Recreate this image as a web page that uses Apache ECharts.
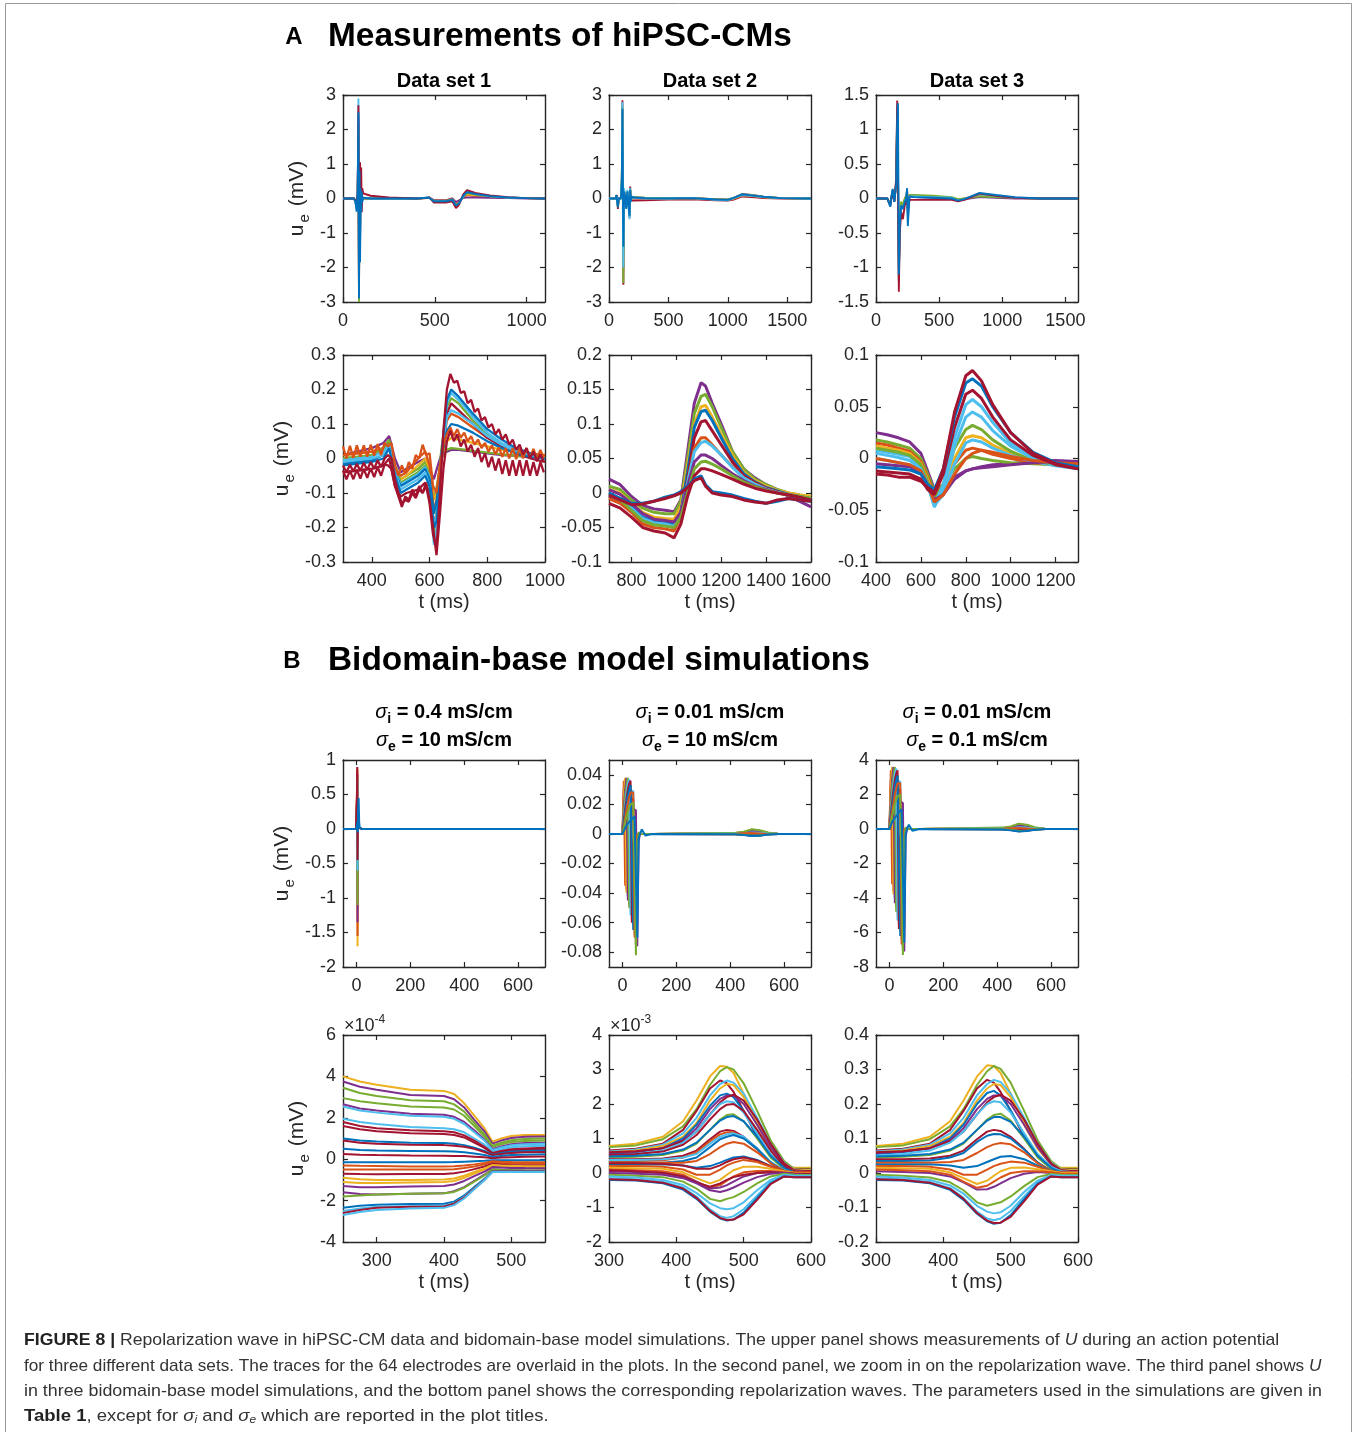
<!DOCTYPE html>
<html><head><meta charset="utf-8">
<script src="https://cdn.jsdelivr.net/npm/echarts@6/dist/echarts.min.js"></script>
<style>html,body{margin:0;padding:0;background:#fff}#c{width:1356px;height:1432px}</style>
</head><body><div id="c"></div>
<script>
// ---------------- DATA ----------------
// Row 1: full measurements
const ds1FullT = [0, 60, 68, 74, 80, 84, 87, 90, 93, 96, 99, 102, 105, 110, 120, 150, 250, 400, 455, 470, 495, 560, 595, 615, 630, 655, 675, 720, 800, 900, 1000, 1100];
const ds1FullColors = ['orange','yellow','purple','green','cyan','red','blue'];
const ds1FullV = [
  [0, 0, -0.05, -0.2, 0.1, 2.2, -2.5, 0.4, -0.9, 0.3, -0.3, 0.15, -0.05, 0.02, 0, 0, 0, 0, 0.01, 0.02, -0.05, -0.05, 0, -0.15, -0.1, 0.05, 0.1, 0.07, 0.04, 0.02, 0.01, 0],
  [0, 0, -0.05, -0.15, 0.1, 1.8, -1.5, 0.3, -0.8, 0.2, -0.2, 0.1, 0, 0, 0, 0, 0, 0, 0.01, 0.02, -0.06, -0.06, -0.02, -0.18, -0.12, 0.06, 0.12, 0.09, 0.05, 0.02, 0.01, 0],
  [0, 0, -0.08, -0.25, 0.15, 2.4, -2.7, 0.5, -1.2, 0.2, -0.3, 0.1, 0, 0, 0, 0, 0, 0, 0.02, 0.03, -0.05, -0.06, 0, -0.1, -0.06, 0.02, 0.03, 0.03, 0.02, 0.01, 0, 0],
  [0, 0, -0.06, -0.2, 0.12, 2.0, -3.0, 0.6, -1.0, 0.25, -0.25, 0.1, 0, 0, 0, 0, 0, 0, 0.02, 0.03, -0.07, -0.07, -0.02, -0.2, -0.14, 0.05, 0.16, 0.12, 0.06, 0.03, 0.01, 0],
  [0, 0, -0.1, -0.3, 0.2, 2.9, -2.6, 0.6, -1.4, 0.3, -0.3, 0.15, -0.05, 0.02, 0, 0, 0, 0, 0.02, 0.02, -0.09, -0.09, -0.05, -0.25, -0.17, 0.07, 0.19, 0.14, 0.07, 0.03, 0.01, 0],
  [0, 0, -0.05, -0.1, 0.1, 2.7, -2.8, 0.5, 1.05, -0.3, 0.9, -0.4, 0.3, 0.15, 0.12, 0.08, 0.03, 0, 0.01, 0.03, -0.12, -0.12, -0.08, -0.28, -0.2, 0.12, 0.24, 0.16, 0.09, 0.04, 0.01, 0],
  [0, 0, -0.1, -0.38, 0.2, 2.5, -2.9, 0.8, -1.85, 0.3, -0.4, 0.2, -0.1, 0.02, 0, 0, 0, 0, 0.02, 0.02, -0.08, -0.08, -0.04, -0.2, -0.15, 0.08, 0.18, 0.13, 0.07, 0.03, 0.01, 0]
];

const ds2FullT = [0, 55, 62, 68, 75, 82, 100, 108, 113, 117, 121, 126, 135, 145, 155, 165, 173, 178, 183, 190, 210, 300, 500, 700, 900, 1000, 1050, 1120, 1200, 1300, 1450, 1700];
const ds2FullColors = ['red','orange','yellow','purple','green','cyan','blue'];
const ds2FullV = [
  [0, 0, 0.05, 0.1, -0.3, 0, 0, 0.4, 2.85, 0.5, -2.5, 0.2, 0.05, -0.25, 0.2, -0.1, -0.55, 0.35, -0.05, -0.05, -0.06, -0.05, -0.03, -0.02, -0.05, -0.06, -0.03, 0.06, 0.04, 0.01, 0, 0],
  [0, 0, 0.08, 0.12, -0.2, 0, 0, 0.5, 2.5, 0.2, -2.0, 0.2, 0.1, -0.2, 0.2, -0.15, -0.4, 0.25, 0, 0.02, 0.01, 0, 0, 0.01, -0.03, -0.04, 0, 0.09, 0.07, 0.03, 0.01, 0],
  [0, 0, 0.06, 0.1, -0.15, 0, 0, 0.4, 2.3, 0.1, -1.8, 0.15, 0.08, -0.15, 0.15, -0.1, -0.35, 0.2, 0, 0.02, 0.02, 0.01, 0, 0.01, -0.03, -0.04, 0, 0.1, 0.08, 0.04, 0.01, 0],
  [0, 0, 0.05, 0.08, -0.15, 0, 0, 0.3, 2.0, 0.0, -1.6, 0.1, 0.05, -0.1, 0.1, -0.1, -0.3, 0.2, 0, 0.02, 0.03, 0.02, 0.01, 0.01, -0.02, -0.03, 0.02, 0.13, 0.1, 0.05, 0.01, 0],
  [0, 0, 0.07, 0.12, -0.25, 0, 0, 0.6, 2.7, -0.3, -2.45, 0.25, 0.1, -0.2, 0.2, -0.15, -0.5, 0.3, -0.02, 0.03, 0.04, 0.02, 0.01, 0.01, -0.02, -0.03, 0.02, 0.12, 0.1, 0.05, 0.01, 0],
  [0, 0, 0.08, 0.12, -0.2, 0, 0, 0.6, 2.8, -0.5, -2.0, 0.3, 0.1, -0.2, 0.25, -0.3, -0.6, 0.3, -0.1, 0.05, 0.02, 0, 0, 0.01, -0.04, -0.05, 0.01, 0.1, 0.08, 0.04, 0.01, 0],
  [0, 0, 0.1, 0.15, -0.25, 0, 0, 0.5, 2.6, 0.3, -1.4, 0.2, 0.1, -0.3, 0.2, -0.2, -0.5, 0.25, -0.1, 0.05, 0.03, 0.01, 0, 0.01, -0.03, -0.04, 0.02, 0.12, 0.09, 0.05, 0.01, 0]
];

const ds3FullT = [0, 90, 100, 113, 122, 132, 145, 160, 168, 174, 181, 188, 200, 213, 228, 240, 246, 252, 265, 300, 450, 600, 650, 700, 820, 950, 1100, 1300, 1600];
const ds3FullColors = ['orange','yellow','purple','green','cyan','red','blue'];
const ds3FullV = [
  [0, 0, -0.04, -0.08, 0.02, 0.1, -0.03, 0.2, 1.2, 0.4, -1.0, -0.3, -0.08, -0.12, -0.02, 0.02, 0.08, -0.1, 0.03, 0.03, 0.02, 0.01, -0.02, 0.0, 0.04, 0.03, 0.01, 0, 0],
  [0, 0, -0.03, -0.08, 0.01, 0.1, -0.03, 0.2, 1.15, 0.3, -0.9, -0.2, -0.05, -0.1, 0.0, 0.03, 0.08, -0.05, 0.03, 0.03, 0.02, 0.01, -0.02, 0.0, 0.05, 0.03, 0.01, 0, 0],
  [0, 0, -0.04, -0.09, 0.02, 0.11, -0.04, 0.22, 1.25, 0.4, -1.1, -0.35, -0.1, -0.15, -0.03, 0.02, 0.1, -0.15, 0.02, 0.02, 0.01, 0.0, -0.03, -0.01, 0.02, 0.01, 0.0, 0, 0],
  [0, 0, -0.04, -0.1, 0.02, 0.12, -0.04, 0.25, 1.3, 0.5, -1.2, -0.3, -0.05, -0.1, 0.0, 0.05, 0.12, -0.1, 0.05, 0.05, 0.04, 0.02, -0.01, 0.0, 0.03, 0.02, 0.01, 0, 0],
  [0, 0, -0.05, -0.11, 0.02, 0.13, -0.05, 0.25, 1.35, 0.6, -1.2, -0.4, -0.1, -0.15, -0.04, 0.01, 0.12, -0.3, 0.03, 0.03, 0.02, 0.01, -0.03, -0.01, 0.06, 0.04, 0.01, 0, 0],
  [0, 0, -0.05, -0.1, 0.0, 0.1, -0.05, 0.3, 1.42, 0.2, -1.35, -0.5, -0.2, -0.3, -0.1, -0.05, 0.1, -0.2, -0.02, -0.02, -0.02, -0.02, -0.04, -0.02, 0.07, 0.04, 0.01, 0, 0],
  [0, 0, -0.05, -0.12, 0.02, 0.14, -0.05, 0.2, 1.1, 1.38, -1.1, -0.4, -0.1, -0.15, -0.05, 0, 0.15, -0.4, 0.03, 0.02, 0.01, 0, -0.03, -0.01, 0.08, 0.05, 0.02, 0, 0]
];

// Row 2: repolarization wave zoom
const ds1ZoomT = [300, 350, 400, 440, 460, 480, 500, 520, 560, 585, 600, 615, 625, 640, 660, 675, 700, 750, 800, 850, 900, 950, 1000];
const ds1ZoomColors = ['purple','green','yellow','orange','green','red','cyan','blue','cyan','blue'];
const ds1ZoomV = [
  [0.01, 0.02, 0.03, 0.045, 0.065, 0.0, -0.04, -0.03, -0.01, 0.0, -0.03, -0.06, -0.03, 0.01, 0.02, 0.025, 0.025, 0.02, 0.015, 0.01, 0.008, 0.005, 0.005],
  [0.0, 0.005, 0.01, 0.025, 0.05, -0.02, -0.06, -0.05, -0.03, -0.01, -0.04, -0.12, -0.08, 0.0, 0.025, 0.03, 0.028, 0.022, 0.017, 0.012, 0.008, 0.005, 0.005],
  [0.01, 0.015, 0.02, 0.03, 0.045, -0.025, -0.06, -0.05, -0.02, 0.0, -0.03, -0.12, -0.1, 0.0, 0.05, 0.06, 0.055, 0.045, 0.035, 0.025, 0.02, 0.015, 0.01],
  [0.01, 0.015, 0.02, 0.03, 0.045, -0.03, -0.05, -0.04, 0.0, 0.02, -0.02, -0.15, -0.12, 0.0, 0.11, 0.13, 0.12, 0.09, 0.06, 0.04, 0.025, 0.015, 0.01],
  [0.0, 0.005, 0.01, 0.03, 0.055, -0.02, -0.07, -0.06, -0.04, -0.02, -0.05, -0.22, -0.15, 0.02, 0.15, 0.175, 0.16, 0.11, 0.07, 0.04, 0.02, 0.01, 0.0],
  [-0.04, -0.035, -0.03, -0.02, 0.0, -0.08, -0.11, -0.1, -0.09, -0.07, -0.1, -0.18, -0.2, -0.02, 0.13, 0.16, 0.14, 0.1, 0.06, 0.035, 0.015, 0.0, -0.01],
  [-0.005, 0.0, 0.005, 0.02, 0.04, -0.035, -0.075, -0.065, -0.045, -0.025, -0.055, -0.2, -0.16, 0.0, 0.12, 0.14, 0.13, 0.1, 0.065, 0.04, 0.02, 0.01, 0.0],
  [-0.015, -0.01, -0.005, 0.01, 0.035, -0.04, -0.08, -0.07, -0.05, -0.03, -0.06, -0.16, -0.12, 0.0, 0.08, 0.1, 0.095, 0.075, 0.05, 0.03, 0.015, 0.005, 0.0],
  [-0.01, -0.005, 0.0, 0.01, 0.04, -0.04, -0.09, -0.08, -0.06, -0.04, -0.08, -0.25, -0.2, 0.0, 0.16, 0.19, 0.17, 0.12, 0.075, 0.045, 0.025, 0.01, 0.0],
  [-0.02, -0.015, -0.01, 0.0, 0.03, -0.05, -0.1, -0.09, -0.07, -0.05, -0.08, -0.2, -0.18, 0.0, 0.17, 0.2, 0.18, 0.13, 0.085, 0.055, 0.03, 0.015, 0.0]
];
// noisy electrodes of data set 1 (visible zig-zag), sampled every 12 ms
const ds1NoisyT = [300, 312, 324, 336, 348, 360, 372, 384, 396, 408, 420, 432, 444, 456, 468, 480, 492, 504, 516, 528, 540, 552, 564, 576, 588, 600,
  612, 624, 636, 648, 660, 672, 684, 696, 708, 720, 732, 744, 756, 768, 780, 792, 804, 816, 828, 840, 852, 864, 876, 888, 900, 912, 924, 936, 948, 960, 972, 984, 996];
const ds1NoisyColors = ['orange','red','red'];
const ds1NoisyV = [
  [0.035, 0.0, 0.037, 0.002, 0.038, 0.005, 0.038, 0.005, 0.04, 0.008, 0.042, 0.01, 0.045,
   0.035, 0.045, -0.02, -0.05, -0.02, -0.045, -0.01, -0.03, 0.01, 0.0, 0.04, 0.01, 0.015,
   -0.08, -0.1, -0.02, 0.04, 0.07, 0.09, 0.065, 0.085, 0.06, 0.075, 0.05, 0.065, 0.04,
   0.055, 0.03, 0.045, 0.02, 0.038, 0.012, 0.032, 0.005, 0.03, 0.0, 0.03, -0.002, 0.03,
   0.0, 0.03, 0.0, 0.028, -0.002, 0.025, 0.0],
  [-0.035, -0.06, -0.035, -0.06, -0.032, -0.058, -0.03, -0.056, -0.028, -0.054, -0.025, -0.05, -0.018,
   -0.02, -0.03, -0.08, -0.11, -0.14, -0.11, -0.12, -0.09, -0.11, -0.08, -0.1, -0.07, -0.12,
   -0.2, -0.28, -0.16, -0.03, 0.05, 0.08, 0.05, 0.07, 0.035, 0.055, 0.02, 0.04, 0.005,
   0.03, -0.01, 0.015, -0.025, 0.005, -0.035, 0.0, -0.045, -0.005, -0.05, -0.005, -0.05, -0.005,
   -0.05, -0.005, -0.05, -0.01, -0.05, -0.01, -0.04],
  [-0.02, -0.04, -0.018, -0.038, -0.015, -0.036, -0.012, -0.033, -0.01, -0.03, -0.005, -0.025, 0.0,
   0.01, 0.0, -0.06, -0.1, -0.13, -0.12, -0.125, -0.1, -0.115, -0.09, -0.1, -0.08, -0.13,
   -0.22, -0.26, -0.1, 0.08, 0.2, 0.245, 0.22, 0.225, 0.19, 0.195, 0.16, 0.17, 0.135,
   0.145, 0.11, 0.12, 0.09, 0.1, 0.07, 0.085, 0.055, 0.07, 0.04, 0.055, 0.025, 0.04,
   0.012, 0.03, 0.0, 0.02, -0.008, 0.012, -0.01]
];

const ds2ZoomT = [700, 750, 800, 850, 900, 950, 990, 1020, 1050, 1080, 1110, 1130, 1160, 1200, 1250, 1300, 1350, 1400, 1450, 1500, 1550, 1600];
const ds2ZoomColors = ['purple','green','yellow','blue','red','orange','cyan','purple','green','red','blue','red'];
const ds2ZoomV = [
  [0.02, 0.012, -0.005, -0.018, -0.023, -0.025, -0.027, -0.01, 0.06, 0.13, 0.16, 0.155, 0.13, 0.1, 0.06, 0.035, 0.022, 0.012, 0.005, -0.005, -0.012, -0.02],
  [0.01, 0.005, -0.01, -0.022, -0.028, -0.03, -0.03, -0.012, 0.05, 0.115, 0.14, 0.143, 0.125, 0.095, 0.06, 0.035, 0.02, 0.012, 0.005, 0, -0.003, -0.005],
  [0.005, 0, -0.015, -0.028, -0.035, -0.037, -0.038, -0.02, 0.04, 0.1, 0.125, 0.127, 0.11, 0.085, 0.055, 0.03, 0.018, 0.01, 0.004, 0, -0.003, -0.005],
  [0.0, -0.008, -0.02, -0.035, -0.04, -0.042, -0.045, -0.028, 0.03, 0.095, 0.118, 0.12, 0.105, 0.08, 0.05, 0.028, 0.016, 0.008, 0.003, -0.002, -0.005, -0.008],
  [-0.005, -0.012, -0.025, -0.04, -0.045, -0.047, -0.05, -0.03, 0.02, 0.08, 0.103, 0.105, 0.09, 0.07, 0.045, 0.025, 0.015, 0.007, 0.002, -0.003, -0.006, -0.01],
  [-0.008, -0.015, -0.028, -0.045, -0.05, -0.052, -0.055, -0.035, 0.012, 0.065, 0.08, 0.08, 0.07, 0.055, 0.038, 0.022, 0.013, 0.006, 0.001, -0.003, -0.006, -0.008],
  [-0.003, -0.01, -0.022, -0.037, -0.043, -0.045, -0.048, -0.03, 0.015, 0.06, 0.073, 0.075, 0.068, 0.055, 0.037, 0.022, 0.013, 0.006, 0.001, -0.003, -0.006, -0.008],
  [0.005, -0.002, -0.015, -0.03, -0.038, -0.04, -0.042, -0.028, 0.01, 0.045, 0.055, 0.055, 0.05, 0.04, 0.028, 0.018, 0.01, 0.005, 0, -0.003, -0.006, -0.01],
  [-0.002, -0.01, -0.025, -0.04, -0.046, -0.048, -0.05, -0.035, 0.0, 0.035, 0.045, 0.046, 0.042, 0.035, 0.025, 0.016, 0.009, 0.004, 0, -0.003, -0.005, -0.008],
  [-0.015, -0.022, -0.035, -0.05, -0.055, -0.058, -0.065, -0.045, -0.005, 0.025, 0.035, 0.035, 0.032, 0.027, 0.02, 0.013, 0.007, 0.003, 0, -0.003, -0.006, -0.01],
  [0.0, -0.008, -0.015, -0.015, -0.012, -0.006, -0.003, 0.002, 0.01, 0.02, 0.025, 0.012, 0.002, 0, -0.003, -0.008, -0.012, -0.015, -0.012, -0.008, -0.01, -0.012],
  [-0.003, -0.01, -0.017, -0.016, -0.012, -0.008, -0.004, 0.0, 0.008, 0.018, 0.022, 0.01, 0.0, -0.003, -0.005, -0.01, -0.013, -0.015, -0.01, -0.008, -0.01, -0.012]
];

const ds3ZoomT = [400, 450, 500, 550, 600, 630, 660, 700, 750, 800, 830, 870, 920, 1000, 1100, 1200, 1300];
const ds3ZoomColors = ['purple','green','orange','yellow','cyan','green','cyan','cyan','purple','orange','red','blue','red'];
const ds3ZoomV = [
  [0.025, 0.023, 0.02, 0.016, 0.005, -0.012, -0.03, -0.028, -0.018, -0.012, -0.01, -0.008, -0.006, -0.005, -0.003, -0.002, -0.003],
  [0.018, 0.016, 0.013, 0.01, 0.0, -0.015, -0.032, -0.025, -0.01, 0.0, 0.002, 0.0, -0.002, -0.004, -0.005, -0.006, -0.008],
  [0.015, 0.013, 0.01, 0.007, -0.003, -0.018, -0.035, -0.025, -0.005, 0.008, 0.01, 0.008, 0.004, 0.0, -0.004, -0.006, -0.008],
  [0.012, 0.01, 0.008, 0.005, -0.005, -0.02, -0.04, -0.03, 0.0, 0.02, 0.022, 0.02, 0.013, 0.005, -0.002, -0.006, -0.008],
  [0.008, 0.006, 0.004, 0.002, -0.008, -0.025, -0.045, -0.035, -0.005, 0.015, 0.018, 0.016, 0.01, 0.003, -0.003, -0.007, -0.01],
  [0.01, 0.008, 0.006, 0.003, -0.006, -0.022, -0.04, -0.025, 0.01, 0.028, 0.032, 0.028, 0.018, 0.007, -0.002, -0.006, -0.008],
  [0.005, 0.003, 0.001, -0.002, -0.01, -0.025, -0.047, -0.03, 0.012, 0.04, 0.045, 0.04, 0.027, 0.012, 0.0, -0.006, -0.009],
  [0.0, -0.002, -0.004, -0.006, -0.012, -0.025, -0.045, -0.025, 0.02, 0.052, 0.057, 0.05, 0.035, 0.015, 0.002, -0.005, -0.008],
  [-0.005, -0.006, -0.007, -0.008, -0.015, -0.025, -0.04, -0.035, -0.02, -0.012, -0.01, -0.009, -0.008, -0.006, -0.004, -0.003, -0.003],
  [0.0, -0.002, -0.004, -0.006, -0.012, -0.025, -0.042, -0.035, -0.015, 0.0, 0.005, 0.008, 0.006, 0.002, -0.002, -0.004, -0.005],
  [-0.012, -0.013, -0.014, -0.015, -0.02, -0.03, -0.035, -0.015, 0.03, 0.062, 0.066, 0.058, 0.04, 0.018, 0.003, -0.006, -0.01],
  [-0.008, -0.009, -0.01, -0.011, -0.015, -0.025, -0.03, -0.01, 0.04, 0.073, 0.077, 0.07, 0.05, 0.025, 0.006, -0.004, -0.008],
  [-0.015, -0.016, -0.018, -0.018, -0.022, -0.028, -0.033, -0.01, 0.045, 0.08, 0.085, 0.075, 0.052, 0.025, 0.005, -0.005, -0.01]
];

// Row 3: bidomain simulations, full traces
const sim1FullT = [-50, -2, 0, 2, 3, 4, 5, 6, 8, 10, 12, 15, 20, 700];
const sim1FullColors = ['yellow','orange','purple','green','cyan','red','blue'];
const sim1FullV = [
  [0, 0, 0.02, 0.5, 0.88, -1.7, -0.3, 0.1, 0.05, 0.02, 0.01, 0, 0, 0],
  [0, 0, 0.02, 0.45, 0.85, -1.55, -0.3, 0.1, 0.05, 0.02, 0.01, 0, 0, 0],
  [0, 0, 0.02, 0.4, 0.8, -1.35, -0.25, 0.08, 0.05, 0.02, 0.01, 0, 0, 0],
  [0, 0, 0.02, 0.35, 0.75, -1.1, -0.2, 0.08, 0.05, 0.02, 0.01, 0, 0, 0],
  [0, 0, 0.02, 0.3, 0.7, -0.6, -0.15, 0.06, 0.04, 0.02, 0.01, 0, 0, 0],
  [0, 0, 0.02, 0.55, 0.9, -0.45, -0.1, 0.05, 0.04, 0.02, 0.01, 0, 0, 0],
  [0, 0, 0.01, 0.05, 0.1, 0.0, -0.05, 0.3, 0.45, 0.1, 0.02, 0.03, 0, 0]
];

const sim2FullT = [-50, 0, 5, 10, 15, 20, 25, 30, 35, 40, 45, 50, 55, 60, 65, 72, 85, 110, 420, 450, 480, 510, 540, 580, 700];
const sim2FullColors = ['red','blue','orange','yellow','purple','green','cyan','red','purple',
  'orange','yellow','purple','green','cyan','red','blue','orange','green','blue'];
const sim2FullV = [
  [0, 0, 0.03, 0.037, -0.038, -0.003, 0, 0, 0, 0, 0, 0, 0, 0, 0, 0, 0, 0, 0.0003, 0.0008, 0.002, 0.0013, 0.0004, 0, 0],
  [0, 0, 0.022, 0.033, 0.037, -0.042, -0.004, 0, 0, 0, 0, 0, 0, 0, 0, 0, 0, 0, 0.0002, 0.0006, 0.0015, 0.001, 0.0003, 0, 0],
  [0, 0, 0.016, 0.028, 0.035, 0.037, -0.048, -0.005, 0, 0, 0, 0, 0, 0, 0, 0, 0, 0, 0.0006, 0.0012, 0.0028, 0.002, 0.0008, 0, 0],
  [0, 0, 0.013, 0.023, 0.031, 0.035, 0.036, -0.052, -0.005, 0, 0, 0, 0, 0, 0, 0, 0, 0, 0.0002, 0.0004, 0.0008, 0.0005, 0.0002, 0, 0],
  [0, 0, 0.01, 0.019, 0.027, 0.032, 0.035, 0.035, -0.058, -0.005, 0, 0, 0, 0, 0, 0, 0, 0, 0, 0.0001, -0.0002, 0, 0, 0, 0],
  [0, 0, 0.008, 0.016, 0.022, 0.028, 0.031, 0.033, 0.032, -0.062, -0.006, 0, 0, 0, 0, 0, 0, 0, 0, -0.0003, -0.0008, -0.0006, -0.0001, 0, 0],
  [0, 0, 0.006, 0.012, 0.018, 0.023, 0.027, 0.029, 0.03, 0.029, -0.068, -0.007, 0, 0, 0, 0, 0, 0, 0.0001, 0.0003, 0.0005, 0.0002, 0, 0, 0],
  [0, 0, 0.005, 0.01, 0.014, 0.018, 0.021, 0.023, 0.024, 0.024, 0.023, -0.075, -0.007, 0, 0, 0, 0, 0, -0.0002, -0.0006, -0.0013, -0.001, -0.0003, 0, 0],
  [0, 0, 0.003, 0.006, 0.009, 0.011, 0.013, 0.015, 0.016, 0.017, 0.017, 0.016, -0.076, -0.005, 0, 0, 0, 0, -0.0002, -0.0005, -0.001, -0.0008, -0.0002, 0, 0],
  [0, 0, 0.036, -0.035, -0.004, 0, 0, 0, 0, 0, 0, 0, 0, 0, 0, 0, 0, 0, 0.0005, 0.001, 0.0025, 0.0015, 0.0005, 0, 0],
  [0, 0, 0.025, 0.038, -0.04, -0.004, 0, 0, 0, 0, 0, 0, 0, 0, 0, 0, 0, 0, 0.0005, 0.0012, 0.003, 0.002, 0.0005, 0, 0],
  [0, 0, 0.018, 0.03, 0.038, -0.045, -0.005, 0, 0, 0, 0, 0, 0, 0, 0, 0, 0, 0, 0, 0.0008, 0.002, 0.0015, 0.0003, 0, 0],
  [0, 0, 0.014, 0.025, 0.033, 0.038, -0.05, -0.005, 0, 0, 0, 0, 0, 0, 0, 0, 0, 0, 0.0008, 0.0015, 0.0031, 0.0025, 0.001, 0, 0],
  [0, 0, 0.011, 0.02, 0.028, 0.034, 0.037, -0.055, -0.005, 0, 0, 0, 0, 0, 0, 0, 0, 0, 0.0003, 0.0005, 0.001, 0.0008, 0.0003, 0, 0],
  [0, 0, 0.009, 0.017, 0.024, 0.03, 0.034, 0.036, -0.06, -0.006, 0, 0, 0, 0, 0, 0, 0, 0, 0, 0.0002, -0.0003, 0, 0, 0, 0],
  [0, 0, 0.007, 0.014, 0.02, 0.026, 0.03, 0.033, 0.034, -0.065, -0.006, 0, 0, 0, 0, 0, 0, 0, -0.0001, -0.0004, -0.001, -0.0008, -0.0002, 0, 0],
  [0, 0, 0.005, 0.011, 0.016, 0.021, 0.025, 0.028, 0.029, 0.028, -0.07, -0.008, 0, 0, 0, 0, 0, 0, 0.0002, 0.0004, 0.0006, 0.0003, 0, 0, 0],
  [0, 0, 0.004, 0.008, 0.012, 0.015, 0.018, 0.02, 0.021, 0.021, 0.02, -0.082, -0.006, 0.001, 0, 0, 0, 0, -0.0002, -0.0005, -0.0012, -0.001, -0.0003, 0, 0],
  [0, 0, 0.002, 0.004, 0.006, 0.007, 0.008, 0.009, 0.01, 0.011, 0.012, 0.012, -0.07, -0.003, 0.0, 0.003, -0.001, 0, -0.0003, -0.0008, -0.0014, -0.0012, -0.0004, 0, 0]
];

const sim3FullT = [-50, 0, 5, 10, 15, 20, 25, 30, 35, 40, 45, 50, 55, 60, 65, 72, 85, 110, 420, 450, 480, 510, 540, 580, 700];
const sim3FullColors = ['red','blue','orange','yellow','purple','green','cyan','red','purple',
  'orange','yellow','purple','green','cyan','red','blue','orange','green','blue'];
const sim3FullV = [
  [0, 0, 2.8, 3.5, -3.6, -0.3, 0, 0, 0, 0, 0, 0, 0, 0, 0, 0, 0, 0, 0.03, 0.08, 0.2, 0.13, 0.04, 0, 0],
  [0, 0, 2.1, 3.1, 3.5, -4.0, -0.4, 0, 0, 0, 0, 0, 0, 0, 0, 0, 0, 0, 0.02, 0.06, 0.15, 0.1, 0.03, 0, 0],
  [0, 0, 1.5, 2.65, 3.3, 3.5, -4.5, -0.45, 0, 0, 0, 0, 0, 0, 0, 0, 0, 0, 0.06, 0.12, 0.27, 0.2, 0.08, 0, 0],
  [0, 0, 1.2, 2.2, 2.95, 3.3, 3.45, -5.0, -0.5, 0, 0, 0, 0, 0, 0, 0, 0, 0, 0.02, 0.04, 0.08, 0.05, 0.02, 0, 0],
  [0, 0, 0.95, 1.8, 2.55, 3.05, 3.3, 3.35, -5.5, -0.5, 0, 0, 0, 0, 0, 0, 0, 0, 0, 0.01, -0.02, 0, 0, 0, 0],
  [0, 0, 0.75, 1.5, 2.1, 2.65, 2.95, 3.1, 3.05, -5.9, -0.55, 0, 0, 0, 0, 0, 0, 0, 0, -0.03, -0.08, -0.06, -0.01, 0, 0],
  [0, 0, 0.55, 1.15, 1.7, 2.2, 2.55, 2.75, 2.85, 2.75, -6.4, -0.6, 0, 0, 0, 0, 0, 0, 0.01, 0.03, 0.05, 0.02, 0, 0, 0],
  [0, 0, 0.45, 0.95, 1.35, 1.7, 2.0, 2.2, 2.3, 2.3, 2.2, -7.0, -0.6, 0, 0, 0, 0, 0, -0.02, -0.06, -0.13, -0.1, -0.03, 0, 0],
  [0, 0, 0.3, 0.6, 0.85, 1.05, 1.25, 1.4, 1.5, 1.6, 1.6, 1.5, -7.1, -0.45, 0, 0, 0, 0, -0.02, -0.05, -0.1, -0.08, -0.02, 0, 0],
  [0, 0, 3.4, -3.2, -0.4, 0, 0, 0, 0, 0, 0, 0, 0, 0, 0, 0, 0, 0, 0.05, 0.1, 0.25, 0.15, 0.05, 0, 0],
  [0, 0, 2.4, 3.6, -3.8, -0.4, 0, 0, 0, 0, 0, 0, 0, 0, 0, 0, 0, 0, 0.05, 0.12, 0.3, 0.2, 0.05, 0, 0],
  [0, 0, 1.7, 2.9, 3.6, -4.3, -0.45, 0, 0, 0, 0, 0, 0, 0, 0, 0, 0, 0, 0, 0.08, 0.2, 0.15, 0.03, 0, 0],
  [0, 0, 1.3, 2.4, 3.1, 3.6, -4.8, -0.5, 0, 0, 0, 0, 0, 0, 0, 0, 0, 0, 0.08, 0.15, 0.3, 0.25, 0.1, 0, 0],
  [0, 0, 1.05, 1.9, 2.7, 3.2, 3.5, -5.3, -0.5, 0, 0, 0, 0, 0, 0, 0, 0, 0, 0.03, 0.05, 0.1, 0.08, 0.03, 0, 0],
  [0, 0, 0.85, 1.6, 2.3, 2.85, 3.2, 3.4, -5.8, -0.55, 0, 0, 0, 0, 0, 0, 0, 0, 0, 0.02, -0.03, 0, 0, 0, 0],
  [0, 0, 0.65, 1.3, 1.9, 2.45, 2.85, 3.1, 3.2, -6.2, -0.55, 0, 0, 0, 0, 0, 0, 0, -0.01, -0.04, -0.1, -0.08, -0.02, 0, 0],
  [0, 0, 0.5, 1.05, 1.5, 2.0, 2.35, 2.65, 2.75, 2.65, -6.7, -0.7, 0, 0, 0, 0, 0, 0, 0.02, 0.04, 0.06, 0.03, 0, 0, 0],
  [0, 0, 0.4, 0.75, 1.15, 1.45, 1.7, 1.9, 2.0, 2.0, 1.9, -7.3, -0.55, 0.1, 0, 0, 0, 0, -0.02, -0.05, -0.12, -0.1, -0.03, 0, 0],
  [0, 0, 0.2, 0.4, 0.55, 0.65, 0.75, 0.85, 0.95, 1.05, 1.15, 1.2, -6.6, -0.3, 0.0, 0.25, -0.1, 0, -0.03, -0.08, -0.14, -0.12, -0.04, 0, 0]
];

// Row 4: simulated repolarization waves (panel 1 in units of 1e-4 mV, panel 2 in 1e-3 mV)
const sim1ZoomT = [250, 275, 300, 350, 400, 415, 430, 445, 460, 472, 485, 500, 520, 550];
const sim1ZoomColors = ['yellow','purple','green','green','purple','cyan','cyan','red','red','blue','red','blue','red','blue','orange','orange','red','yellow','yellow','purple','purple','green','blue','cyan','red','cyan'];
const sim1ZoomV = [
  [4.0, 3.75, 3.6, 3.35, 3.3, 3.15, 2.7, 2.1, 1.5, 0.85, 1.0, 1.12, 1.17, 1.17],
  [3.75, 3.5, 3.35, 3.1, 3.05, 2.9, 2.5, 1.9, 1.35, 0.75, 0.9, 1.02, 1.08, 1.1],
  [3.45, 3.2, 3.05, 2.85, 2.8, 2.65, 2.3, 1.75, 1.2, 0.65, 0.8, 0.92, 0.98, 1.0],
  [2.95, 2.8, 2.7, 2.55, 2.5, 2.4, 2.1, 1.6, 1.1, 0.6, 0.72, 0.83, 0.88, 0.9],
  [2.65, 2.45, 2.35, 2.2, 2.15, 2.05, 1.8, 1.4, 0.95, 0.5, 0.62, 0.72, 0.78, 0.8],
  [2.55, 2.35, 2.25, 2.1, 2.05, 1.95, 1.7, 1.3, 0.9, 0.45, 0.57, 0.67, 0.72, 0.75],
  [1.95, 1.8, 1.7, 1.55, 1.5, 1.45, 1.3, 1.0, 0.7, 0.38, 0.48, 0.58, 0.63, 0.65],
  [1.8, 1.6, 1.5, 1.4, 1.35, 1.3, 1.15, 0.9, 0.6, 0.3, 0.4, 0.48, 0.52, 0.55],
  [1.6, 1.45, 1.35, 1.25, 1.22, 1.17, 1.05, 0.8, 0.55, 0.28, 0.35, 0.42, 0.46, 0.48],
  [1.0, 0.9, 0.85, 0.8, 0.78, 0.75, 0.68, 0.55, 0.4, 0.22, 0.3, 0.36, 0.4, 0.42],
  [0.9, 0.8, 0.75, 0.7, 0.68, 0.65, 0.6, 0.5, 0.35, 0.2, 0.25, 0.3, 0.33, 0.35],
  [0.5, 0.45, 0.42, 0.4, 0.38, 0.37, 0.34, 0.28, 0.2, 0.12, 0.16, 0.2, 0.22, 0.24],
  [0.25, 0.22, 0.2, 0.18, 0.17, 0.16, 0.15, 0.12, 0.09, 0.05, 0.08, 0.1, 0.12, 0.13],
  [-0.15, -0.15, -0.15, -0.15, -0.15, -0.14, -0.12, -0.1, -0.08, -0.05, -0.05, -0.05, -0.05, -0.05],
  [-0.3, -0.32, -0.33, -0.35, -0.35, -0.34, -0.3, -0.25, -0.18, -0.1, -0.12, -0.14, -0.15, -0.15],
  [-0.5, -0.5, -0.5, -0.5, -0.5, -0.48, -0.43, -0.35, -0.25, -0.15, -0.18, -0.2, -0.22, -0.22],
  [-0.7, -0.72, -0.73, -0.72, -0.72, -0.68, -0.6, -0.48, -0.35, -0.22, -0.25, -0.28, -0.3, -0.3],
  [-0.9, -0.97, -1.0, -1.0, -0.98, -0.93, -0.8, -0.62, -0.45, -0.28, -0.3, -0.32, -0.34, -0.34],
  [-1.1, -1.15, -1.15, -1.12, -1.1, -1.05, -0.9, -0.7, -0.5, -0.32, -0.34, -0.36, -0.38, -0.38],
  [-1.3, -1.35, -1.35, -1.32, -1.3, -1.22, -1.05, -0.82, -0.6, -0.38, -0.4, -0.42, -0.43, -0.44],
  [-1.6, -1.68, -1.7, -1.67, -1.65, -1.55, -1.35, -1.05, -0.75, -0.48, -0.5, -0.52, -0.53, -0.54],
  [-1.8, -1.75, -1.7, -1.67, -1.65, -1.58, -1.38, -1.08, -0.78, -0.5, -0.52, -0.53, -0.55, -0.55],
  [-2.35, -2.25, -2.2, -2.17, -2.15, -2.05, -1.75, -1.35, -0.95, -0.58, -0.58, -0.58, -0.58, -0.58],
  [-2.5, -2.38, -2.3, -2.27, -2.25, -2.13, -1.82, -1.4, -0.98, -0.6, -0.6, -0.6, -0.6, -0.6],
  [-2.6, -2.45, -2.35, -2.3, -2.28, -2.15, -1.85, -1.42, -1.0, -0.6, -0.6, -0.6, -0.6, -0.6],
  [-2.7, -2.55, -2.45, -2.38, -2.35, -2.22, -1.9, -1.45, -1.02, -0.62, -0.62, -0.62, -0.62, -0.62]
];

const sim2ZoomT = [300, 340, 380, 410, 430, 450, 465, 475, 485, 500, 520, 540, 560, 575, 590, 600];
const sim2ZoomColors = ['yellow','green','red','cyan','yellow','blue','purple','red','cyan','red','green','blue','red','orange','cyan','blue','orange','blue','red','orange','yellow','orange','purple','red','purple','green','cyan','cyan','blue','red'];
const sim2ZoomV = [
  [0.78, 0.85, 1.05, 1.5, 2.1, 2.8, 3.1, 3.08, 2.9, 2.3, 1.4, 0.7, 0.25, 0.15, 0.15, 0.15],
  [0.75, 0.8, 0.98, 1.35, 1.85, 2.55, 2.95, 3.07, 3.0, 2.6, 1.8, 0.95, 0.35, 0.12, 0.12, 0.12],
  [0.65, 0.7, 0.85, 1.25, 1.8, 2.45, 2.68, 2.6, 2.35, 1.8, 1.05, 0.5, 0.18, 0.1, 0.1, 0.1],
  [0.62, 0.68, 0.82, 1.15, 1.6, 2.25, 2.58, 2.68, 2.62, 2.3, 1.6, 0.85, 0.3, 0.1, 0.08, 0.08],
  [0.6, 0.65, 0.78, 1.05, 1.45, 2.1, 2.45, 2.58, 2.55, 2.2, 1.5, 0.8, 0.28, 0.1, 0.08, 0.08],
  [0.55, 0.6, 0.72, 1.0, 1.4, 1.95, 2.25, 2.3, 2.2, 1.8, 1.1, 0.5, 0.15, 0.05, 0.05, 0.05],
  [0.58, 0.62, 0.72, 0.95, 1.3, 1.85, 2.15, 2.25, 2.25, 2.0, 1.4, 0.75, 0.25, 0.08, 0.06, 0.06],
  [0.6, 0.63, 0.72, 0.92, 1.2, 1.7, 2.05, 2.2, 2.27, 2.1, 1.55, 0.85, 0.28, 0.08, 0.05, 0.05],
  [0.5, 0.55, 0.65, 0.88, 1.2, 1.7, 2.0, 2.08, 2.05, 1.75, 1.15, 0.55, 0.18, 0.05, 0.03, 0.03],
  [0.52, 0.55, 0.62, 0.82, 1.1, 1.55, 1.85, 1.98, 2.0, 1.8, 1.25, 0.65, 0.2, 0.05, 0.03, 0.03],
  [0.45, 0.47, 0.52, 0.65, 0.85, 1.25, 1.55, 1.68, 1.7, 1.5, 1.0, 0.45, 0.12, 0.02, 0.0, 0.0],
  [0.48, 0.5, 0.55, 0.68, 0.88, 1.25, 1.52, 1.62, 1.65, 1.5, 1.05, 0.5, 0.15, 0.02, 0.0, 0.0],
  [0.4, 0.4, 0.42, 0.5, 0.65, 0.98, 1.2, 1.25, 1.22, 1.05, 0.7, 0.3, 0.06, 0.0, -0.02, -0.02],
  [0.35, 0.35, 0.37, 0.45, 0.6, 0.92, 1.12, 1.18, 1.18, 1.02, 0.68, 0.3, 0.06, 0.0, -0.02, -0.02],
  [0.38, 0.38, 0.4, 0.45, 0.55, 0.85, 1.05, 1.12, 1.15, 1.05, 0.72, 0.32, 0.08, 0.0, -0.02, -0.02],
  [0.3, 0.3, 0.3, 0.35, 0.45, 0.75, 0.98, 1.05, 1.1, 1.0, 0.7, 0.3, 0.06, -0.02, -0.03, -0.03],
  [0.3, 0.3, 0.3, 0.3, 0.35, 0.55, 0.75, 0.85, 0.9, 0.85, 0.6, 0.28, 0.06, -0.02, -0.03, -0.03],
  [0.25, 0.25, 0.25, 0.22, 0.15, 0.2, 0.3, 0.38, 0.45, 0.48, 0.38, 0.2, 0.05, -0.02, -0.03, -0.03],
  [0.28, 0.28, 0.27, 0.22, 0.12, 0.12, 0.22, 0.32, 0.4, 0.45, 0.36, 0.2, 0.05, 0.02, 0.02, 0.02],
  [0.2, 0.2, 0.18, 0.1, -0.05, -0.05, 0.1, 0.22, 0.3, 0.38, 0.32, 0.18, 0.05, 0.02, 0.02, 0.02],
  [0.15, 0.14, 0.12, 0.02, -0.15, -0.3, -0.2, -0.05, 0.08, 0.18, 0.18, 0.12, 0.05, 0.0, 0.0, 0.0],
  [0.1, 0.08, 0.05, -0.05, -0.25, -0.42, -0.35, -0.22, -0.1, 0.02, 0.06, 0.06, 0.02, -0.02, -0.02, -0.02],
  [0.05, 0.03, 0.0, -0.1, -0.25, -0.45, -0.42, -0.35, -0.25, -0.1, 0.0, 0.03, 0.0, -0.03, -0.03, -0.03],
  [0.08, 0.05, 0.0, -0.1, -0.28, -0.4, -0.3, -0.2, -0.12, -0.05, 0.0, 0.02, 0.0, -0.02, -0.02, -0.02],
  [0.0, -0.02, -0.05, -0.15, -0.3, -0.5, -0.55, -0.5, -0.42, -0.28, -0.12, -0.02, 0.0, -0.03, -0.05, -0.05],
  [-0.05, -0.08, -0.12, -0.25, -0.45, -0.75, -0.82, -0.75, -0.7, -0.55, -0.3, -0.1, -0.02, -0.05, -0.06, -0.06],
  [-0.1, -0.13, -0.2, -0.35, -0.58, -0.88, -1.02, -1.05, -1.02, -0.85, -0.5, -0.2, -0.05, -0.08, -0.08, -0.08],
  [-0.15, -0.18, -0.25, -0.42, -0.68, -1.05, -1.25, -1.3, -1.25, -1.05, -0.65, -0.25, -0.08, -0.1, -0.1, -0.1],
  [-0.2, -0.22, -0.3, -0.48, -0.75, -1.12, -1.32, -1.38, -1.35, -1.15, -0.72, -0.3, -0.1, -0.12, -0.12, -0.12],
  [-0.18, -0.2, -0.28, -0.45, -0.72, -1.1, -1.3, -1.36, -1.35, -1.2, -0.78, -0.32, -0.1, -0.12, -0.12, -0.12]
];

const sim3ZoomT = [300, 340, 380, 410, 430, 450, 465, 475, 485, 500, 520, 540, 560, 575, 590, 600];
const sim3ZoomColors = ['yellow','green','red','cyan','yellow','blue','purple','red','cyan','green','blue','red','blue','orange','blue','orange','yellow','purple','orange','green','cyan','cyan','blue','red'];
const sim3ZoomV = [
  [0.078, 0.085, 0.105, 0.15, 0.21, 0.28, 0.312, 0.31, 0.29, 0.23, 0.14, 0.07, 0.025, 0.015, 0.015, 0.015],
  [0.075, 0.08, 0.098, 0.135, 0.185, 0.255, 0.295, 0.31, 0.302, 0.262, 0.18, 0.095, 0.035, 0.012, 0.012, 0.012],
  [0.065, 0.07, 0.085, 0.125, 0.18, 0.245, 0.27, 0.262, 0.235, 0.18, 0.105, 0.05, 0.018, 0.01, 0.01, 0.01],
  [0.062, 0.068, 0.082, 0.115, 0.16, 0.225, 0.258, 0.27, 0.264, 0.23, 0.16, 0.085, 0.03, 0.01, 0.008, 0.008],
  [0.06, 0.065, 0.078, 0.105, 0.145, 0.21, 0.245, 0.258, 0.255, 0.22, 0.15, 0.08, 0.028, 0.01, 0.008, 0.008],
  [0.055, 0.06, 0.072, 0.1, 0.14, 0.2, 0.232, 0.238, 0.225, 0.182, 0.11, 0.05, 0.015, 0.005, 0.005, 0.005],
  [0.058, 0.062, 0.072, 0.095, 0.13, 0.185, 0.215, 0.225, 0.225, 0.2, 0.14, 0.075, 0.025, 0.008, 0.006, 0.006],
  [0.06, 0.063, 0.072, 0.092, 0.12, 0.17, 0.205, 0.22, 0.227, 0.21, 0.155, 0.085, 0.028, 0.008, 0.005, 0.005],
  [0.05, 0.055, 0.065, 0.088, 0.12, 0.17, 0.2, 0.208, 0.205, 0.175, 0.115, 0.055, 0.018, 0.005, 0.003, 0.003],
  [0.045, 0.047, 0.052, 0.065, 0.085, 0.125, 0.155, 0.168, 0.172, 0.152, 0.1, 0.045, 0.012, 0.002, 0.0, 0.0],
  [0.048, 0.05, 0.055, 0.068, 0.088, 0.125, 0.152, 0.162, 0.162, 0.148, 0.105, 0.05, 0.015, 0.002, 0.0, 0.0],
  [0.04, 0.04, 0.042, 0.05, 0.065, 0.098, 0.12, 0.125, 0.122, 0.105, 0.07, 0.03, 0.006, 0.0, -0.002, -0.002],
  [0.035, 0.035, 0.036, 0.045, 0.058, 0.09, 0.108, 0.113, 0.112, 0.1, 0.068, 0.03, 0.006, -0.002, -0.003, -0.003],
  [0.03, 0.03, 0.03, 0.032, 0.038, 0.058, 0.075, 0.083, 0.087, 0.083, 0.06, 0.028, 0.006, -0.002, -0.003, -0.003],
  [0.025, 0.025, 0.025, 0.022, 0.015, 0.02, 0.032, 0.04, 0.047, 0.049, 0.04, 0.021, 0.005, -0.002, -0.003, -0.003],
  [0.02, 0.02, 0.018, 0.01, -0.005, -0.005, 0.01, 0.02, 0.027, 0.033, 0.03, 0.018, 0.005, 0.002, 0.002, 0.002],
  [0.015, 0.014, 0.012, 0.002, -0.015, -0.032, -0.022, -0.008, 0.005, 0.015, 0.016, 0.011, 0.005, 0.0, 0.0, 0.0],
  [0.005, 0.003, 0.0, -0.01, -0.027, -0.048, -0.047, -0.04, -0.03, -0.015, -0.002, 0.003, 0.0, -0.003, -0.003, -0.003],
  [0.01, 0.008, 0.005, -0.005, -0.025, -0.043, -0.037, -0.025, -0.013, 0.0, 0.005, 0.005, 0.002, -0.002, -0.002, -0.002],
  [-0.005, -0.008, -0.013, -0.027, -0.05, -0.085, -0.095, -0.09, -0.085, -0.068, -0.038, -0.012, -0.003, -0.005, -0.006, -0.006],
  [-0.01, -0.013, -0.02, -0.036, -0.06, -0.095, -0.112, -0.117, -0.114, -0.095, -0.055, -0.022, -0.006, -0.008, -0.008, -0.008],
  [-0.015, -0.018, -0.026, -0.044, -0.072, -0.112, -0.132, -0.137, -0.132, -0.11, -0.068, -0.027, -0.008, -0.01, -0.01, -0.01],
  [-0.02, -0.022, -0.03, -0.049, -0.078, -0.118, -0.14, -0.147, -0.144, -0.122, -0.076, -0.031, -0.01, -0.012, -0.012, -0.012],
  [-0.018, -0.02, -0.028, -0.046, -0.075, -0.116, -0.138, -0.145, -0.144, -0.127, -0.082, -0.034, -0.01, -0.012, -0.012, -0.012]
];

// Axis extents and tick labels
const xRanges = [[0,1100],[0,1700],[0,1600],[300,1000],[700,1600],[400,1300],[-50,700],[-50,700],[-50,700],[250,550],[300,600],[300,600]];
const yRanges = [[-3,3],[-3,3],[-1.5,1.5],[-0.3,0.3],[-0.1,0.2],[-0.1,0.1],[-2,1],[-0.09,0.05],[-8,4],[-4,6],[-2,4],[-0.2,0.4]];
const xTicks = [[0,500,1000],[0,500,1000,1500],[0,500,1000,1500],[400,600,800,1000],[800,1000,1200,1400,1600],[400,600,800,1000,1200],
  [0,200,400,600],[0,200,400,600],[0,200,400,600],[300,400,500],[300,400,500,600],[300,400,500,600]];
const yTicks = [[-3,-2,-1,0,1,2,3],[-3,-2,-1,0,1,2,3],[-1.5,-1,-0.5,0,0.5,1,1.5],[-0.3,-0.2,-0.1,0,0.1,0.2,0.3],
  [-0.1,-0.05,0,0.05,0.1,0.15,0.2],[-0.1,-0.05,0,0.05,0.1],[-2,-1.5,-1,-0.5,0,0.5,1],[-0.08,-0.06,-0.04,-0.02,0,0.02,0.04],
  [-8,-6,-4,-2,0,2,4],[-4,-2,0,2,4,6],[-2,-1,0,1,2,3,4],[-0.2,-0.1,0,0.1,0.2,0.3,0.4]];

// Texts
const panelTitleA = 'Measurements of hiPSC-CMs';
const panelTitleB = 'Bidomain-base model simulations';
const dataSetTitles = ['Data set 1','Data set 2','Data set 3'];
const sigmaI = ['0.4','0.01','0.01'];
const sigmaE = ['10','10','0.1'];
const exponents = ['-4','-3'];
const captionLines = [
  '{b|FIGURE 8 |}{n| Repolarization wave in hiPSC-CM data and bidomain-base model simulations. The upper panel shows measurements of }{i|U}{n| during an action potential}',
  '{n|for three different data sets. The traces for the 64 electrodes are overlaid in the plots. In the second panel, we zoom in on the repolarization wave. The third panel shows }{i|U}',
  '{n|in three bidomain-base model simulations, and the bottom panel shows the corresponding repolarization waves. The parameters used in the simulations are given in}',
  '{b|Table 1}{n|, except for }{i|σ}{is|i}{n| and }{i|σ}{is|e}{n| which are reported in the plot titles.}'
];

// ---------------- CHART ----------------
const COLORS = {blue:'#0072BD', orange:'#D95319', yellow:'#EDB120', purple:'#7E2F8E', green:'#77AC30', cyan:'#4DBEEE', red:'#A2142F'};
const FF = '"Liberation Sans", Arial, Helvetica, sans-serif';
const AX = '#262626';
const panels = [
  [[ds1FullT, ds1FullV, ds1FullColors]], [[ds2FullT, ds2FullV, ds2FullColors]], [[ds3FullT, ds3FullV, ds3FullColors]],
  [[ds1ZoomT, ds1ZoomV, ds1ZoomColors], [ds1NoisyT, ds1NoisyV, ds1NoisyColors]], [[ds2ZoomT, ds2ZoomV, ds2ZoomColors]], [[ds3ZoomT, ds3ZoomV, ds3ZoomColors]],
  [[sim1FullT, sim1FullV, sim1FullColors]], [[sim2FullT, sim2FullV, sim2FullColors]], [[sim3FullT, sim3FullV, sim3FullColors]],
  [[sim1ZoomT, sim1ZoomV, sim1ZoomColors]], [[sim2ZoomT, sim2ZoomV, sim2ZoomColors]], [[sim3ZoomT, sim3ZoomV, sim3ZoomColors]]
];
const lineWidths = [1.9, 1.9, 1.9, 2.3, 3, 3, 2, 2, 2, 2, 2, 2];
const gridLefts = [343, 609, 876];
const gridTops = [95, 355, 760, 1035];
const yLabelX = [297, 282, 282, 297];
const GW = 202, GH = 207;

const grids = [], xAxes = [], yAxes = [], series = [];
panels.forEach((groups, i) => {
  const r = Math.floor(i / 3), c = i % 3;
  grids.push({left: gridLefts[c], top: gridTops[r], width: GW, height: GH, show: false});
  const line = {show: true, onZero: false, lineStyle: {color: AX, width: 1.4}};
  const tick = vals => ({show: true, inside: true, length: 5, customValues: vals, lineStyle: {color: AX, width: 1.2}});
  const lab = (vals, show, m) => ({show: show, customValues: vals, color: AX, fontSize: 18, fontFamily: FF, margin: m, formatter: v => String(v)});
  const base = {type: 'value', gridIndex: i, splitLine: {show: false}, axisLine: line};
  xAxes.push(Object.assign({}, base, {position: 'bottom', min: xRanges[i][0], max: xRanges[i][1], axisTick: tick(xTicks[i]), axisLabel: lab(xTicks[i], true, 10)}));
  xAxes.push(Object.assign({}, base, {position: 'top', min: xRanges[i][0], max: xRanges[i][1], axisTick: tick(xTicks[i]), axisLabel: {show: false}}));
  yAxes.push(Object.assign({}, base, {position: 'left', min: yRanges[i][0], max: yRanges[i][1], axisTick: tick(yTicks[i]), axisLabel: lab(yTicks[i], true, 7)}));
  yAxes.push(Object.assign({}, base, {position: 'right', min: yRanges[i][0], max: yRanges[i][1], axisTick: tick(yTicks[i]), axisLabel: {show: false}}));
  groups.forEach(g => {
    const T = g[0];
    g[1].forEach((vals, k) => {
      series.push({
        type: 'line', xAxisIndex: 2 * i, yAxisIndex: 2 * i,
        data: T.map((t, j) => [t, vals[j]]),
        showSymbol: false, symbol: 'none', silent: true, animation: false, clip: true,
        lineStyle: {color: COLORS[g[2][k]], width: lineWidths[i]}
      });
    });
  });
});

function txt(x, y, text, o) {
  o = o || {};
  return {
    type: 'text', x: x, y: y, rotation: o.rot || 0, scaleX: o.sx || 1, silent: true, z: 10,
    style: {
      text: text, fontFamily: FF, fontSize: o.size || 18, fontWeight: o.weight || 'normal',
      fill: o.fill || AX, align: o.align || 'center', verticalAlign: o.va || 'middle',
      textAlign: o.align || 'center', textVerticalAlign: o.va || 'middle', rich: o.rich
    }
  };
}

const gfx = [];
gfx.push({type: 'rect', silent: true, shape: {x: 5.5, y: 3.5, width: 1346, height: 1460}, style: {fill: 'none', stroke: '#9a9a9a', lineWidth: 1}});
gfx.push(txt(294, 37, 'A', {size: 24, weight: 'bold', fill: '#000'}));
gfx.push(txt(328, 37, panelTitleA, {size: 33.4, weight: 'bold', fill: '#000', align: 'left'}));
gfx.push(txt(292, 661, 'B', {size: 24, weight: 'bold', fill: '#000'}));
gfx.push(txt(328, 661, panelTitleB, {size: 33.4, weight: 'bold', fill: '#000', align: 'left'}));

const colCenters = gridLefts.map(l => l + GW / 2);
dataSetTitles.forEach((t, c) => gfx.push(txt(colCenters[c], 81, t, {size: 20, weight: 'bold', fill: '#000'})));

const sigRich = {
  g: {fontFamily: FF, fontSize: 20, fontStyle: 'italic', fill: '#000'},
  sub: {fontFamily: FF, fontSize: 14, fontWeight: 'bold', fill: '#000', padding: [15, 0, 0, 0]},
  b: {fontFamily: FF, fontSize: 20, fontWeight: 'bold', fill: '#000'}
};
sigmaI.forEach((v, c) => gfx.push(txt(colCenters[c], 712, '{g|σ}{sub|i}{b| = ' + v + ' mS/cm}', {rich: sigRich})));
sigmaE.forEach((v, c) => gfx.push(txt(colCenters[c], 740, '{g|σ}{sub|e}{b| = ' + v + ' mS/cm}', {rich: sigRich})));

const uRich = {
  a: {fontFamily: FF, fontSize: 21, fill: AX},
  s: {fontFamily: FF, fontSize: 15, fill: AX, padding: [15, 2, 0, 2]}
};
gridTops.forEach((t, r) => gfx.push(txt(yLabelX[r], t + GH / 2, '{a|u}{s|e}{a| (mV)}', {rot: Math.PI / 2, rich: uRich})));
[gridTops[1], gridTops[3]].forEach(t => colCenters.forEach(cx => gfx.push(txt(cx, t + GH + 40, 't (ms)', {size: 20}))));

const supRich = {
  n: {fontFamily: FF, fontSize: 18, fill: AX},
  p: {fontFamily: FF, fontSize: 12, fill: AX, padding: [0, 0, 12, 0]}
};
exponents.forEach((e, c) => gfx.push(txt(gridLefts[c] + 1, 1026, '{n|×10}{p|' + e + '}', {align: 'left', rich: supRich})));

const capRich = {
  b: {fontFamily: FF, fontSize: 17, fontWeight: 'bold', fill: '#222'},
  n: {fontFamily: FF, fontSize: 17, fill: '#333'},
  i: {fontFamily: FF, fontSize: 17, fontStyle: 'italic', fill: '#333'},
  is: {fontFamily: FF, fontSize: 11, fontStyle: 'italic', fill: '#333', padding: [7, 0, 0, 0]}
};
const capY = [1340, 1366, 1391, 1416];
const capScale = [1.037, 1.012, 1.05, 1.09];
captionLines.forEach((l, k) => gfx.push(txt(24, capY[k], l, {align: 'left', rich: capRich, sx: capScale[k]})));

const chart = echarts.init(document.getElementById('c'), null, {renderer: 'canvas', width: 1356, height: 1432});
chart.setOption({
  backgroundColor: '#fff',
  animation: false,
  grid: grids, xAxis: xAxes, yAxis: yAxes, series: series,
  graphic: {elements: gfx}
});
</script></body></html>
